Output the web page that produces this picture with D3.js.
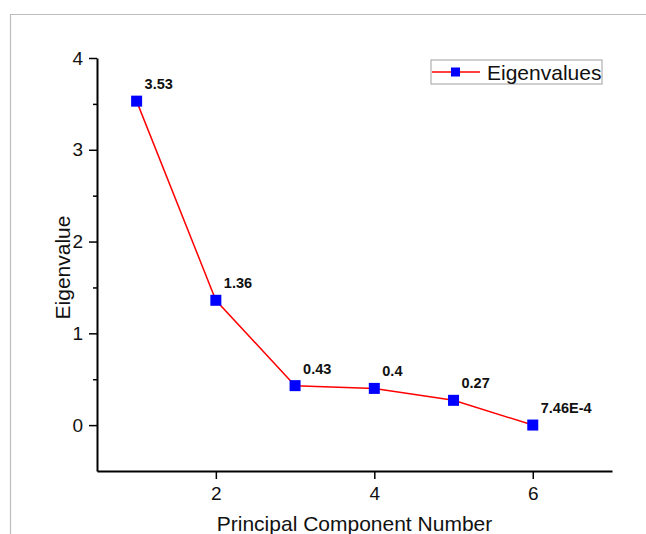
<!DOCTYPE html>
<html>
<head>
<meta charset="utf-8">
<script src="https://cdn.jsdelivr.net/npm/d3@7"></script>
<style>
  body { margin: 0; background: #fff; }
  svg { display: block; font-family: "Liberation Sans", Arial, sans-serif; }
</style>
</head>
<body>
<div id="chart"></div>
<script>
// scree plot data
const components = [1, 2, 3, 4, 5, 6];
const eigenvalues = [3.53, 1.36, 0.43, 0.4, 0.27, 7.46e-4];
const pointLabels = ["3.53", "1.36", "0.43", "0.4", "0.27", "7.46E-4"];
const xTicks = [2, 4, 6];
const yTicks = [0, 1, 2, 3, 4];

const width = 646, height = 534;
const svg = d3.select("#chart").append("svg")
  .attr("width", width)
  .attr("height", height);

// light frame around the figure
svg.append("line").attr("x1", 10).attr("x2", width).attr("y1", 14.5).attr("y2", 14.5)
  .attr("stroke", "#bdbdbd").attr("stroke-width", 1.2);
svg.append("line").attr("x1", 10.5).attr("x2", 10.5).attr("y1", 14).attr("y2", height)
  .attr("stroke", "#bdbdbd").attr("stroke-width", 1.2);

const x = d3.scaleLinear().domain([0.5, 7]).range([97, 612]);
const y = d3.scaleLinear().domain([-0.5, 4]).range([471, 58]);

// x axis
const xAxis = svg.append("g")
  .attr("transform", `translate(0,${y(-0.5)})`)
  .call(d3.axisBottom(x).tickValues(xTicks).tickFormat(d3.format("d"))
    .tickSize(8).tickPadding(8).tickSizeOuter(0));
xAxis.select(".domain").attr("stroke-width", 2);
xAxis.selectAll(".tick line").attr("stroke-width", 1.5);
xAxis.selectAll("text").attr("font-size", 19).attr("fill", "#111")
  .attr("font-family", "Liberation Sans, Arial, sans-serif");

// y axis with minor ticks
const yMinor = d3.range(-0.5, 4, 0.5).filter(v => !yTicks.includes(v) && v > -0.5);
svg.append("g")
  .attr("transform", `translate(${x(0.5)},0)`)
  .call(d3.axisLeft(y).tickValues(yMinor).tickSize(4).tickFormat(""))
  .call(g => g.select(".domain").remove())
  .selectAll(".tick line").attr("stroke-width", 1.5);

const yAxis = svg.append("g")
  .attr("transform", `translate(${x(0.5)},0)`)
  .call(d3.axisLeft(y).tickValues(yTicks).tickFormat(d3.format("d"))
    .tickSize(8).tickPadding(6).tickSizeOuter(0));
yAxis.select(".domain").attr("stroke-width", 2);
yAxis.selectAll(".tick line").attr("stroke-width", 1.5);
yAxis.selectAll("text").attr("font-size", 19).attr("fill", "#111")
  .attr("font-family", "Liberation Sans, Arial, sans-serif");

// axis titles
svg.append("text")
  .attr("x", (x(0.5) + x(7)) / 2).attr("y", 531)
  .attr("text-anchor", "middle").attr("font-size", 21).attr("fill", "#111")
  .text("Principal Component Number");

svg.append("text")
  .attr("transform", `translate(70,${(y(-0.5) + y(4)) / 2 + 3}) rotate(-90)`)
  .attr("text-anchor", "middle").attr("font-size", 21).attr("fill", "#111")
  .text("Eigenvalue");

// line + markers
const pts = components.map((c, i) => ({ c: c, v: eigenvalues[i], label: pointLabels[i] }));

svg.append("path")
  .datum(pts)
  .attr("fill", "none").attr("stroke", "#ff0000").attr("stroke-width", 1.5)
  .attr("d", d3.line().x(d => x(d.c)).y(d => y(d.v)));

const ms = 11;
svg.selectAll(".pt").data(pts).join("rect")
  .attr("class", "pt")
  .attr("x", d => x(d.c) - ms / 2).attr("y", d => y(d.v) - ms / 2)
  .attr("width", ms).attr("height", ms)
  .attr("fill", "#0000ff");

svg.selectAll(".lbl").data(pts).join("text")
  .attr("class", "lbl")
  .attr("x", d => x(d.c) + 8).attr("y", d => y(d.v) - 12)
  .attr("font-size", 14.5).attr("font-weight", "bold").attr("fill", "#111")
  .text(d => d.label);

// legend
const lg = svg.append("g").attr("transform", "translate(431,60)");
lg.append("rect").attr("width", 171).attr("height", 24)
  .attr("fill", "#fff").attr("stroke", "#a0a0a0").attr("stroke-width", 1);
lg.append("line").attr("x1", 1).attr("x2", 49).attr("y1", 12).attr("y2", 12)
  .attr("stroke", "#ff0000").attr("stroke-width", 1.5);
lg.append("rect").attr("x", 20).attr("y", 7.5).attr("width", 9).attr("height", 9).attr("fill", "#0000ff");
lg.append("text").attr("x", 56).attr("y", 20).attr("font-size", 21).attr("fill", "#111")
  .text("Eigenvalues");
</script>
</body>
</html>
